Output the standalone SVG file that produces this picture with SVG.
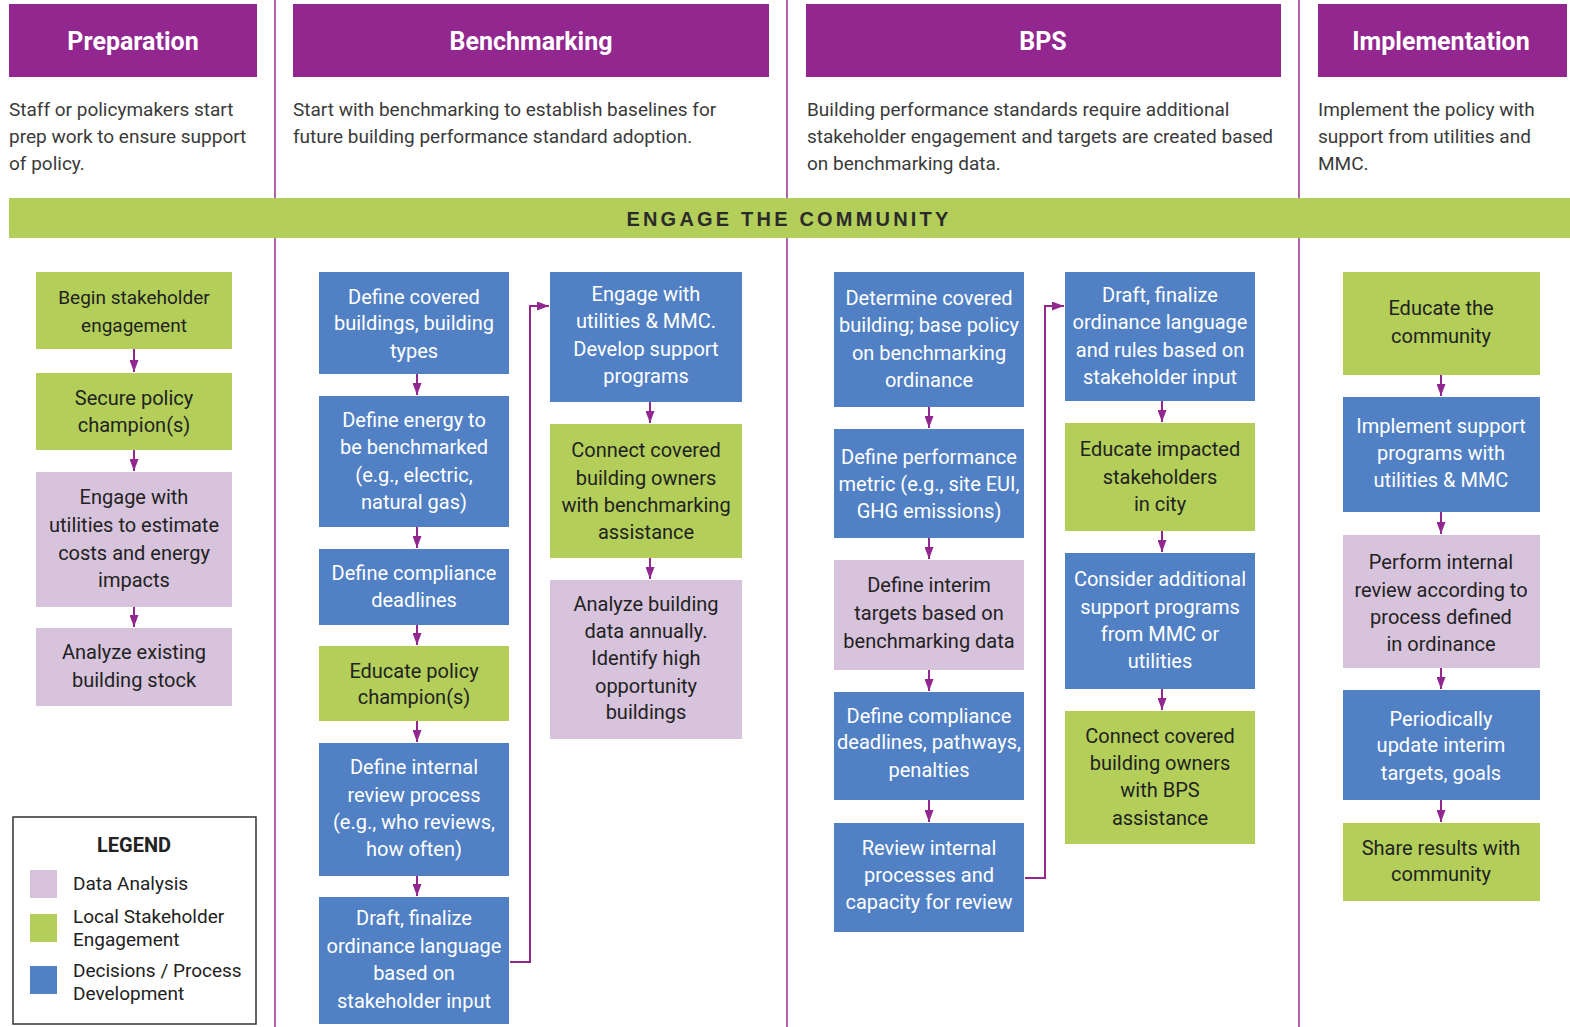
<svg xmlns="http://www.w3.org/2000/svg" width="1570" height="1027" viewBox="0 0 1570 1027">
<defs>
<marker id="ah" markerWidth="12" markerHeight="9" refX="12" refY="4.5" orient="auto" markerUnits="userSpaceOnUse">
<path d="M0,0 L12,4.5 L0,9 Z" fill="#92278f"/>
</marker>
<style>
.hdr{fill:#92278f}
.ht{font-family:Roboto,"Liberation Sans",sans-serif;font-weight:bold;font-size:25px;fill:#fff;text-anchor:middle}
.desc{font-family:Roboto,"Liberation Sans",sans-serif;font-size:19px;fill:#3a3a3a}
.div{stroke:#9b3d9b;stroke-width:1.6}
.b{fill:#5181c4}
.g{fill:#b3cf5a}
.l{fill:#d8c3dc}
.tw{font-family:Roboto,"Liberation Sans",sans-serif;font-size:20px;fill:#fff;text-anchor:middle}
.td{font-family:Roboto,"Liberation Sans",sans-serif;font-size:20px;fill:#222;text-anchor:middle}
.sm{font-size:19px}
.c{stroke:#92278f;stroke-width:2;fill:none}
.lg{font-family:Roboto,"Liberation Sans",sans-serif;font-size:19px;fill:#222}
</style>
</defs>
<rect width="1570" height="1027" fill="#fff"/>
<g id="dividers">
<line class="div" x1="275" y1="0" x2="275" y2="1027"/>
<line class="div" x1="787" y1="0" x2="787" y2="1027"/>
<line class="div" x1="1299" y1="0" x2="1299" y2="1027"/>
</g>
<g id="header-preparation">
<rect class="hdr" x="9" y="4" width="248" height="73"/>
<text class="ht" x="133" y="50">Preparation</text>
<text class="desc" x="9" y="116">Staff or policymakers start</text>
<text class="desc" x="9" y="143">prep work to ensure support</text>
<text class="desc" x="9" y="170">of policy.</text>
</g>
<g id="header-benchmarking">
<rect class="hdr" x="293" y="4" width="476" height="73"/>
<text class="ht" x="531" y="50">Benchmarking</text>
<text class="desc" x="293" y="116">Start with benchmarking to establish baselines for</text>
<text class="desc" x="293" y="143">future building performance standard adoption.</text>
</g>
<g id="header-bps">
<rect class="hdr" x="806" y="4" width="475" height="73"/>
<text class="ht" x="1043" y="50">BPS</text>
<text class="desc" x="807" y="116">Building performance standards require additional</text>
<text class="desc" x="807" y="143">stakeholder engagement and targets are created based</text>
<text class="desc" x="807" y="170">on benchmarking data.</text>
</g>
<g id="header-implementation">
<rect class="hdr" x="1318" y="4" width="249" height="73"/>
<text class="ht" x="1441" y="50">Implementation</text>
<text class="desc" x="1318" y="116">Implement the policy with</text>
<text class="desc" x="1318" y="143">support from utilities and</text>
<text class="desc" x="1318" y="170">MMC.</text>
</g>
<g id="band">
<rect x="9" y="198" width="1561" height="40" fill="#b3cf5a"/>
<text x="789" y="226" font-family="'Liberation Sans',Arial,sans-serif" font-weight="bold" font-size="20" letter-spacing="3.2" fill="#2b2b2b" text-anchor="middle">ENGAGE THE COMMUNITY</text>
</g>

<g id="connectors">
<line class="c" x1="134" y1="349" x2="134" y2="372" marker-end="url(#ah)"/>
<line class="c" x1="134" y1="450" x2="134" y2="471" marker-end="url(#ah)"/>
<line class="c" x1="134" y1="607" x2="134" y2="627" marker-end="url(#ah)"/>

<line class="c" x1="417" y1="374" x2="417" y2="395" marker-end="url(#ah)"/>
<line class="c" x1="417" y1="527" x2="417" y2="548" marker-end="url(#ah)"/>
<line class="c" x1="417" y1="625" x2="417" y2="645" marker-end="url(#ah)"/>
<line class="c" x1="417" y1="721" x2="417" y2="742" marker-end="url(#ah)"/>
<line class="c" x1="417" y1="876" x2="417" y2="896" marker-end="url(#ah)"/>
<polyline class="c" points="510,962 530,962 530,306 549,306" marker-end="url(#ah)"/>

<line class="c" x1="650" y1="402" x2="650" y2="423" marker-end="url(#ah)"/>
<line class="c" x1="650" y1="558" x2="650" y2="579" marker-end="url(#ah)"/>

<line class="c" x1="929" y1="407" x2="929" y2="428" marker-end="url(#ah)"/>
<line class="c" x1="929" y1="538" x2="929" y2="559" marker-end="url(#ah)"/>
<line class="c" x1="929" y1="670" x2="929" y2="691" marker-end="url(#ah)"/>
<line class="c" x1="929" y1="800" x2="929" y2="822" marker-end="url(#ah)"/>
<polyline class="c" points="1025,878 1045,878 1045,306 1064,306" marker-end="url(#ah)"/>

<line class="c" x1="1162" y1="401" x2="1162" y2="422" marker-end="url(#ah)"/>
<line class="c" x1="1162" y1="531" x2="1162" y2="552" marker-end="url(#ah)"/>
<line class="c" x1="1162" y1="689" x2="1162" y2="710" marker-end="url(#ah)"/>

<line class="c" x1="1441" y1="375" x2="1441" y2="396" marker-end="url(#ah)"/>
<line class="c" x1="1441" y1="512" x2="1441" y2="534" marker-end="url(#ah)"/>
<line class="c" x1="1441" y1="668" x2="1441" y2="689" marker-end="url(#ah)"/>
<line class="c" x1="1441" y1="800" x2="1441" y2="822" marker-end="url(#ah)"/>
</g>

<g id="p1"><rect class="g" x="36" y="272" width="196" height="77"/>
<text class="td sm" x="134" y="304">Begin stakeholder</text><text class="td sm" x="134" y="332">engagement</text></g>
<g id="p2"><rect class="g" x="36" y="373" width="196" height="77"/>
<text class="td" x="134" y="405">Secure policy</text><text class="td" x="134" y="432">champion(s)</text></g>
<g id="p3"><rect class="l" x="36" y="472" width="196" height="135"/>
<text class="td" x="134" y="504">Engage with</text><text class="td" x="134" y="532">utilities to estimate</text><text class="td" x="134" y="560">costs and energy</text><text class="td" x="134" y="587">impacts</text></g>
<g id="p4"><rect class="l" x="36" y="628" width="196" height="78"/>
<text class="td" x="134" y="659">Analyze existing</text><text class="td" x="134" y="687">building stock</text></g>

<g id="b1"><rect class="b" x="319" y="272" width="190" height="102"/>
<text class="tw" x="414" y="304">Define covered</text><text class="tw" x="414" y="330">buildings, building</text><text class="tw" x="414" y="358">types</text></g>
<g id="b2"><rect class="b" x="319" y="396" width="190" height="131"/>
<text class="tw" x="414" y="427">Define energy to</text><text class="tw" x="414" y="454">be benchmarked</text><text class="tw" x="414" y="482">(e.g., electric,</text><text class="tw" x="414" y="509">natural gas)</text></g>
<g id="b3"><rect class="b" x="319" y="549" width="190" height="76"/>
<text class="tw" x="414" y="580">Define compliance</text><text class="tw" x="414" y="607">deadlines</text></g>
<g id="b4"><rect class="g" x="319" y="646" width="190" height="75"/>
<text class="td" x="414" y="678">Educate policy</text><text class="td" x="414" y="704">champion(s)</text></g>
<g id="b5"><rect class="b" x="319" y="743" width="190" height="133"/>
<text class="tw" x="414" y="774">Define internal</text><text class="tw" x="414" y="802">review process</text><text class="tw" x="414" y="829">(e.g., who reviews,</text><text class="tw" x="414" y="856">how often)</text></g>
<g id="b6"><rect class="b" x="319" y="897" width="190" height="127"/>
<text class="tw" x="414" y="925">Draft, finalize</text><text class="tw" x="414" y="953">ordinance language</text><text class="tw" x="414" y="980">based on</text><text class="tw" x="414" y="1008">stakeholder input</text></g>

<g id="b7"><rect class="b" x="550" y="272" width="192" height="130"/>
<text class="tw" x="646" y="301">Engage with</text><text class="tw" x="646" y="328">utilities &amp; MMC.</text><text class="tw" x="646" y="356">Develop support</text><text class="tw" x="646" y="383">programs</text></g>
<g id="b8"><rect class="g" x="550" y="424" width="192" height="134"/>
<text class="td" x="646" y="457">Connect covered</text><text class="td" x="646" y="485">building owners</text><text class="td" x="646" y="512">with benchmarking</text><text class="td" x="646" y="539">assistance</text></g>
<g id="b9"><rect class="l" x="550" y="580" width="192" height="159"/>
<text class="td" x="646" y="611">Analyze building</text><text class="td" x="646" y="638">data annually.</text><text class="td" x="646" y="665">Identify high</text><text class="td" x="646" y="693">opportunity</text><text class="td" x="646" y="719">buildings</text></g>

<g id="s1"><rect class="b" x="834" y="272" width="190" height="135"/>
<text class="tw" x="929" y="305">Determine covered</text><text class="tw" x="929" y="332">building; base policy</text><text class="tw" x="929" y="360">on benchmarking</text><text class="tw" x="929" y="387">ordinance</text></g>
<g id="s2"><rect class="b" x="834" y="429" width="190" height="109"/>
<text class="tw" x="929" y="464">Define performance</text><text class="tw" x="929" y="491">metric (e.g., site EUI,</text><text class="tw" x="929" y="518">GHG emissions)</text></g>
<g id="s3"><rect class="l" x="834" y="560" width="190" height="110"/>
<text class="td" x="929" y="592">Define interim</text><text class="td" x="929" y="620">targets based on</text><text class="td" x="929" y="648">benchmarking data</text></g>
<g id="s4"><rect class="b" x="834" y="692" width="190" height="108"/>
<text class="tw" x="929" y="723">Define compliance</text><text class="tw" x="929" y="749">deadlines, pathways,</text><text class="tw" x="929" y="777">penalties</text></g>
<g id="s5"><rect class="b" x="834" y="823" width="190" height="109"/>
<text class="tw" x="929" y="855">Review internal</text><text class="tw" x="929" y="882">processes and</text><text class="tw" x="929" y="909">capacity for review</text></g>

<g id="s6"><rect class="b" x="1065" y="272" width="190" height="129"/>
<text class="tw" x="1160" y="302">Draft, finalize</text><text class="tw" x="1160" y="329">ordinance language</text><text class="tw" x="1160" y="357">and rules based on</text><text class="tw" x="1160" y="384">stakeholder input</text></g>
<g id="s7"><rect class="g" x="1065" y="423" width="190" height="108"/>
<text class="td" x="1160" y="456">Educate impacted</text><text class="td" x="1160" y="484">stakeholders</text><text class="td" x="1160" y="511">in city</text></g>
<g id="s8"><rect class="b" x="1065" y="553" width="190" height="136"/>
<text class="tw" x="1160" y="586">Consider additional</text><text class="tw" x="1160" y="614">support programs</text><text class="tw" x="1160" y="641">from MMC or</text><text class="tw" x="1160" y="668">utilities</text></g>
<g id="s9"><rect class="g" x="1065" y="711" width="190" height="133"/>
<text class="td" x="1160" y="743">Connect covered</text><text class="td" x="1160" y="770">building owners</text><text class="td" x="1160" y="797">with BPS</text><text class="td" x="1160" y="825">assistance</text></g>

<g id="i1"><rect class="g" x="1343" y="272" width="197" height="103"/>
<text class="td" x="1441" y="315">Educate the</text><text class="td" x="1441" y="343">community</text></g>
<g id="i2"><rect class="b" x="1343" y="397" width="197" height="115"/>
<text class="tw" x="1441" y="433">Implement support</text><text class="tw" x="1441" y="460">programs with</text><text class="tw" x="1441" y="487">utilities &amp; MMC</text></g>
<g id="i3"><rect class="l" x="1343" y="535" width="197" height="133"/>
<text class="td" x="1441" y="569">Perform internal</text><text class="td" x="1441" y="597">review according to</text><text class="td" x="1441" y="624">process defined</text><text class="td" x="1441" y="651">in ordinance</text></g>
<g id="i4"><rect class="b" x="1343" y="690" width="197" height="110"/>
<text class="tw" x="1441" y="726">Periodically</text><text class="tw" x="1441" y="752">update interim</text><text class="tw" x="1441" y="780">targets, goals</text></g>
<g id="i5"><rect class="g" x="1343" y="823" width="197" height="78"/>
<text class="td" x="1441" y="855">Share results with</text><text class="td" x="1441" y="881">community</text></g>

<g id="legend">
<rect x="13" y="817" width="243" height="207" fill="#fff" stroke="#333" stroke-width="1.5"/>
<text x="134" y="852" font-family="Roboto,'Liberation Sans',sans-serif" font-weight="bold" font-size="20" fill="#222" text-anchor="middle">LEGEND</text>
<rect class="l" x="30" y="870" width="27" height="28"/>
<text class="lg" x="73" y="890">Data Analysis</text>
<rect class="g" x="30" y="914" width="27" height="28"/>
<text class="lg" x="73" y="923">Local Stakeholder</text>
<text class="lg" x="73" y="946">Engagement</text>
<rect class="b" x="30" y="966" width="27" height="28"/>
<text class="lg" x="73" y="977">Decisions / Process</text>
<text class="lg" x="73" y="1000">Development</text>
</g>
</svg>
